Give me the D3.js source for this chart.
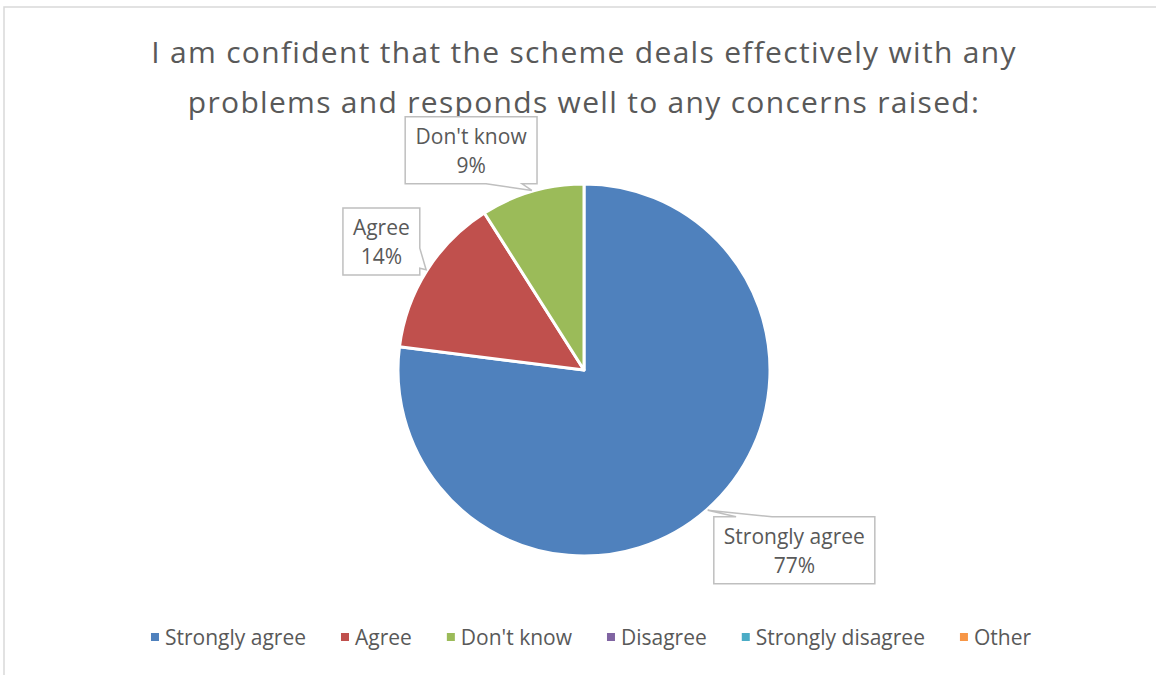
<!DOCTYPE html>
<html>
<head>
<meta charset="utf-8">
<script src="https://cdn.jsdelivr.net/npm/d3@7"></script>
<style>
    body { margin: 0; background: white; }
    text { font-family: "Open Sans", sans-serif; fill: #595959; }
</style>
</head>
<body>
<div id="chart-container"></div>
<script>
// createPieChart.js

// chart data
const titleLines = ["I am confident that the scheme deals effectively with any",
    "problems and responds well to any concerns raised:"];
const categories = ["Strongly agree", "Agree", "Don't know", "Disagree", "Strongly disagree", "Other"];
const percentages = [77, 14, 9, 0, 0, 0];
const sliceColors = ["#4f81bd", "#c0504d", "#9bbb59", "#8064a2", "#4bacc6", "#f79646"];

function createPieChart() {
    const width = 1156;
    const height = 675;
    const cx = 584, cy = 370, radius = 186;

    const svg = d3.select("#chart-container").append("svg")
        .attr("width", width)
        .attr("height", height);

    // chart area border (only top + left visible in the screenshot)
    svg.append("path")
        .attr("d", "M4," + height + " L4,7 L" + width + ",7")
        .attr("fill", "none")
        .attr("stroke", "#d9d9d9")
        .attr("stroke-width", 1.5);

    // title
    svg.append("g").selectAll("text")
        .data(titleLines)
        .enter().append("text")
        .attr("x", cx)
        .attr("y", (d, i) => 63 + i * 50)
        .attr("text-anchor", "middle")
        .attr("font-size", "30px")
        .attr("letter-spacing", "1.3px")
        .text(d => d);

    const color = d3.scaleOrdinal().domain(categories).range(sliceColors);

    const pie = d3.pie().sort(null).value(d => d.value);
    const arcs = pie(categories.map((c, i) => ({ name: c, value: percentages[i] })));

    const arc = d3.arc().innerRadius(0).outerRadius(radius);

    const g = svg.append("g").attr("transform", "translate(" + cx + "," + cy + ")");

    g.selectAll(".slice")
        .data(arcs.filter(d => d.data.value > 0))
        .enter().append("path")
        .attr("class", "slice")
        .attr("d", arc)
        .attr("fill", d => color(d.data.name))
        .attr("stroke", "white")
        .attr("stroke-width", 3)
        .attr("stroke-linejoin", "round");

    // label placement: shift of angle (deg) and distance of the callout centre
    const labelShift = { "Strongly agree": -8, "Agree": 0, "Don't know": -11 };
    const labelDist = { "Strongly agree": 277, "Agree": 240, "Don't know": 247 };

    function callout(x0, y0, x1, y1, tx, ty) {
        // rectangle with a small wedge pointing at (tx, ty)
        var side;
        if (ty > y1) side = "bottom";
        else if (ty < y0) side = "top";
        else if (tx > x1) side = "right";
        else side = "left";
        var p = [];
        function wedge(lo, hi, proj) {
            var L = hi - lo;
            var m = Math.max(lo + 0.25 * L, Math.min(hi - 0.25 * L, proj));
            var hw = Math.min(0.15 * L, 18);
            return [m - hw, m + hw];
        }
        p.push([x0, y0]);
        if (side === "top") {
            var w = wedge(x0, x1, tx);
            p.push([w[0], y0], [tx, ty], [w[1], y0]);
        }
        p.push([x1, y0]);
        if (side === "right") {
            var w = wedge(y0, y1, ty);
            p.push([x1, w[0]], [tx, ty], [x1, w[1]]);
        }
        p.push([x1, y1]);
        if (side === "bottom") {
            var w = wedge(x0, x1, tx);
            p.push([w[1], y1], [tx, ty], [w[0], y1]);
        }
        p.push([x0, y1]);
        if (side === "left") {
            var w = wedge(y0, y1, ty);
            p.push([x0, w[1]], [tx, ty], [x0, w[0]]);
        }
        return "M" + p.map(q => q[0] + "," + q[1]).join("L") + "Z";
    }

    const labelG = g.append("g");
    arcs.filter(d => d.data.value > 0).forEach(d => {
        var mid = (d.startAngle + d.endAngle) / 2;
        var tip = [Math.sin(mid) * (radius + 1), -Math.cos(mid) * (radius + 1)];
        var a = mid + labelShift[d.data.name] * Math.PI / 180;
        var lx = Math.sin(a) * labelDist[d.data.name];
        var ly = -Math.cos(a) * labelDist[d.data.name];

        var box = labelG.append("path");
        var t = labelG.append("text")
            .attr("text-anchor", "middle")
            .attr("font-size", "21px");
        t.append("tspan").attr("x", lx).attr("y", ly - 6).text(d.data.name);
        t.append("tspan").attr("x", lx).attr("y", ly + 23).text(d.data.value + "%");

        var tw = t.node().getBBox().width;
        var bw = tw + 20, bh = 67;
        box.attr("d", callout(lx - bw / 2, ly - bh / 2, lx + bw / 2, ly + bh / 2, tip[0], tip[1]))
            .attr("fill", "white")
            .attr("stroke", "#bfbfbf")
            .attr("stroke-width", 1.5);
    });

    // legend
    const legend = svg.append("g");
    var xpos = 0;
    categories.forEach((c, i) => {
        var item = legend.append("g").attr("transform", "translate(" + xpos + ",0)");
        item.append("rect")
            .attr("x", 0).attr("y", -5)
            .attr("width", 8).attr("height", 8)
            .attr("fill", color(c));
        var txt = item.append("text")
            .attr("x", 14)
            .attr("y", 7)
            .attr("font-size", "21px")
            .text(c);
        xpos += 14 + txt.node().getComputedTextLength() + 35;
    });
    var legendWidth = xpos - 35;
    legend.attr("transform", "translate(" + (591 - legendWidth / 2) + ",638)");
}

document.addEventListener("DOMContentLoaded", () => {
    createPieChart();
});
</script>
</body>
</html>
